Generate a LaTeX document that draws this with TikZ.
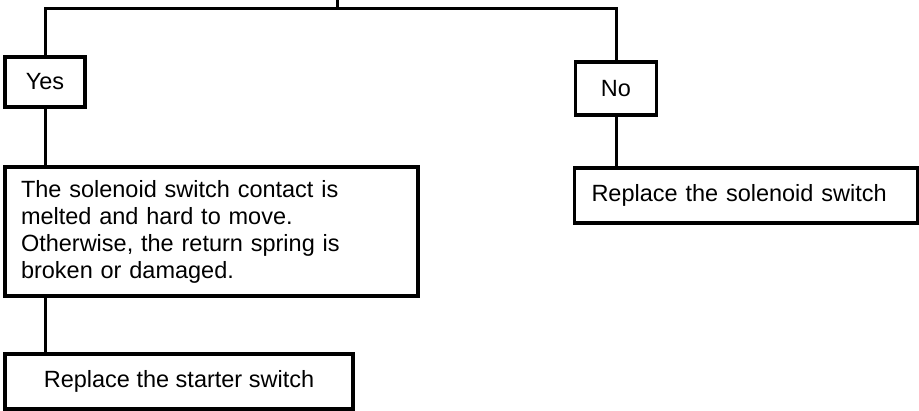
\documentclass[tikz,border=0pt]{standalone}
\usepackage{fontspec}
\setmainfont{Liberation Sans}
\begin{document}
\begin{tikzpicture}[x=1pt,y=-1pt,
  every node/.style={font=\fontsize{23.5}{27}\selectfont},
  box/.style={draw,line width=3.2pt,rectangle,inner sep=0pt,minimum height=#1},
  link/.style={line width=3pt}]
\useasboundingbox (0,0) rectangle (919,410);
% answer boxes
\node[box=50pt,minimum width=80pt] (yes) at (45,82) {Yes};
\node[box=53pt,minimum width=81pt] (no) at (616,88.5) {No};
% outcome boxes
\node[box=129pt,text width=381pt,inner xsep=16pt,align=left] (cause) at (211.5,231.5)
  {The solenoid switch contact is\\melted and hard to move.\\Otherwise, the return spring is\\broken or damaged.};
\node[box=55pt,minimum width=348pt] (starter) at (179,381.5) {Replace the starter switch};
\node[box=55pt,text width=309pt,inner xsep=17pt,align=left] (solenoid) at (746,195.5)
  {Replace the solenoid switch};
% branch from the question above
\coordinate (up) at (337,0);
\coordinate (split) at (337,8);
\draw[link] (up) -- (split);
\draw[link] (yes.north) |- (split) -| (no.north);
\draw[link] (yes.south) -- (yes.south |- cause.north);
\draw[link] (cause.south -| yes.south) -- (starter.north -| yes.south);
\draw[link] (no.south) -- (no.south |- solenoid.north);
\end{tikzpicture}
\end{document}
